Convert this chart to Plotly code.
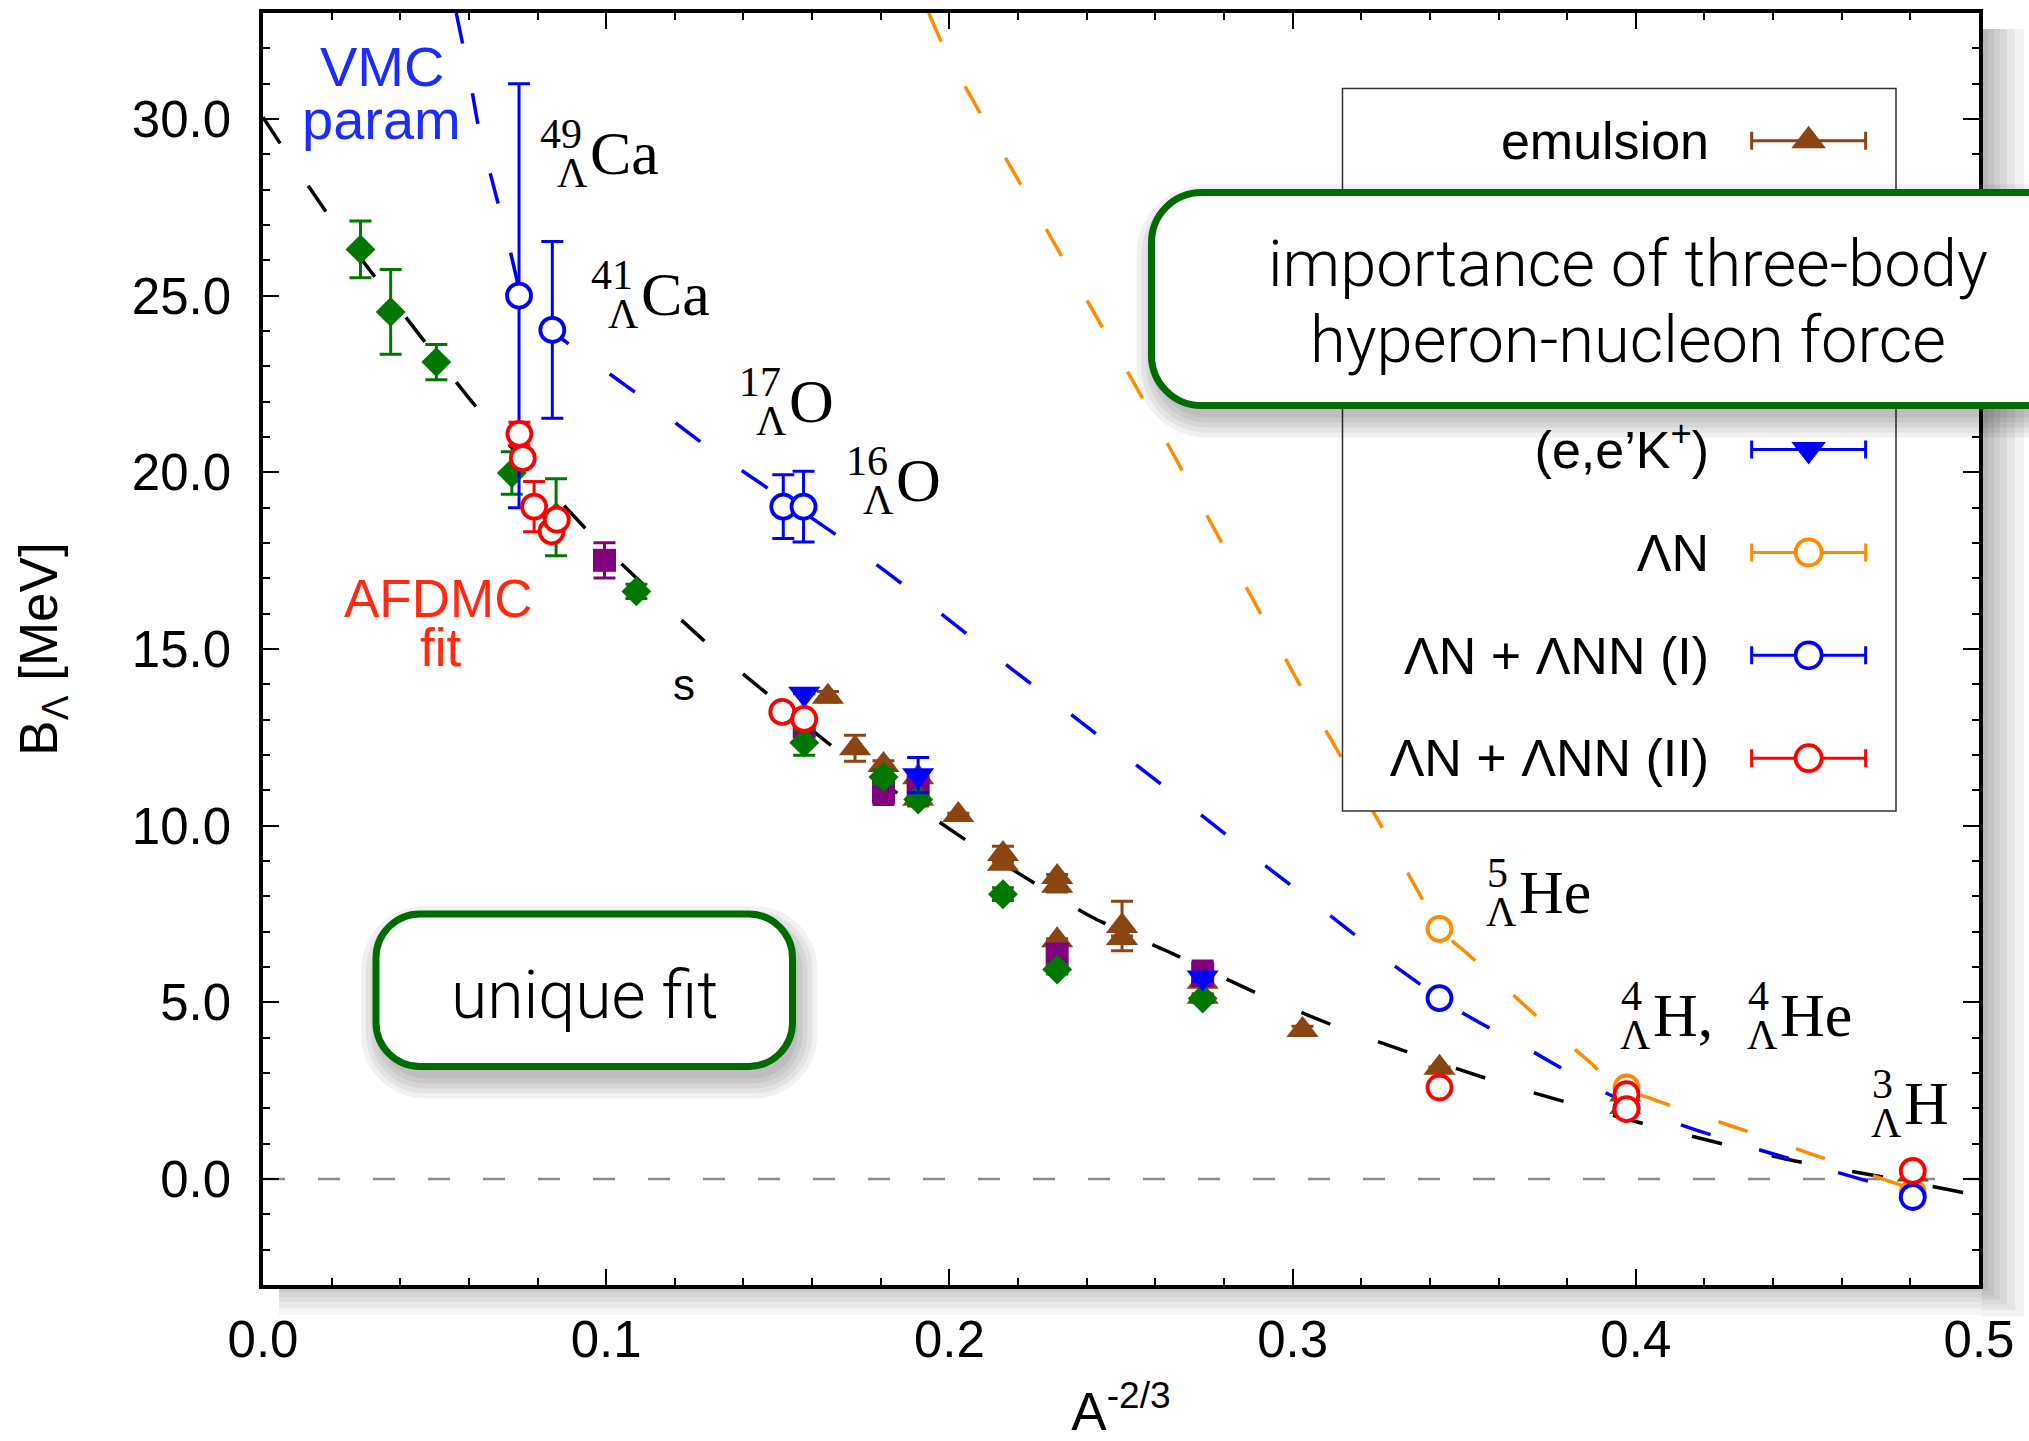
import plotly.graph_objects as go

# ------------------------------------------------------------------
# Data  (x = A^-2/3, y = B_Lambda [MeV])
# ------------------------------------------------------------------
# emulsion (brown up-triangles)
emul_x = [0.4807, 0.3969, 0.3969, 0.3428, 0.3029, 0.2738, 0.2738, 0.2503, 0.2503,
          0.2314, 0.2314, 0.2314, 0.2156, 0.2156, 0.2026, 0.1909, 0.1909, 0.1808,
          0.1725, 0.1646]
emul_y = [0.13, 2.04, 2.39, 3.15, 4.22, 5.58, 5.16, 7.16, 6.82,
          8.55, 8.30, 6.76, 9.20, 8.92, 10.30, 11.37, 10.76, 11.72,
          12.19, 13.65]
emul_err = [0.05, 0.04, 0.03, 0.02, 0.10, 0.03, 0.08, 0.70, 0.06,
            0.07, 0.18, 0.04, 0.22, 0.12, 0.05, 0.06, 0.02, 0.12,
            0.37, 0.15]

# (K-,pi-) (purple squares)
kpi_x = [0.0995, 0.1577, 0.1808, 0.1909, 0.2314, 0.2738]
kpi_y = [17.51, 12.80, 10.95, 11.10, 6.35, 5.82]
kpi_err = [0.50, 0.40, 0.35, 0.40, 0.30, 0.35]

# (pi+,K+) (green diamonds)
pik_x = [0.0284, 0.0372, 0.0505, 0.0725, 0.0854, 0.1088, 0.1577, 0.1808, 0.1909,
         0.2156, 0.2314, 0.2738]
pik_y = [26.31, 24.54, 23.12, 19.98, 18.73, 16.63, 12.35, 11.38, 10.74,
         8.06, 5.93, 5.11]
pik_err = [0.80, 1.20, 0.50, 0.60, 1.09, 0.20, 0.36, 0.20, 0.18,
           0.18, 0.13, 0.10]

# (e,e'K+) (blue down-triangles)
eek_x = [0.1577, 0.1909, 0.2738]
eek_y = [13.73, 11.43, 5.70]
eek_err = [0.0, 0.50, 0.10]

# Lambda N (orange open circles)
ln_x = [0.3428, 0.3973, 0.4807]
ln_y = [7.08, 2.59, -0.38]
ln_err = [0.0, 0.0, 0.0]

# Lambda N + Lambda NN (I) (blue open circles)
l1_x = [0.0746, 0.0843, 0.1516, 0.1575, 0.3428, 0.3973, 0.4807]
l1_y = [25.00, 24.03, 19.03, 19.03, 5.12, 2.00, -0.51]
l1_err = [6.0, 2.5, 0.9, 1.0, 0.0, 0.0, 0.0]

# Lambda N + Lambda NN (II) (red open circles)
l2_x = [0.0747, 0.0757, 0.0790, 0.0841, 0.0856, 0.1513, 0.1577, 0.3428, 0.3973,
        0.3973, 0.4807]
l2_y = [21.09, 20.40, 19.03, 18.33, 18.66, 13.22, 13.02, 2.59, 2.40,
        1.98, 0.23]
l2_err = [0.33, 0.0, 0.71, 0.0, 0.0, 0.0, 0.0, 0.0, 0.0, 0.0, 0.0]

# dashed curves
fit_x = [0.0, 0.0187, 0.0629, 0.0954, 0.1302, 0.1681, 0.2075, 0.2416, 0.2632,
         0.2929, 0.3152, 0.3612, 0.4082, 0.4464, 0.4730, 0.5]
fit_y = [30.05, 27.33, 21.76, 18.27, 15.09, 12.08, 9.42, 7.41, 6.46,
         5.11, 4.22, 2.70, 1.41, 0.51, 0.04, -0.47]

vmc_x = [0.0563, 0.0603, 0.0629, 0.0713, 0.0746, 0.0759, 0.0804, 0.0915, 0.1103,
         0.1292, 0.1682, 0.1948, 0.2142, 0.2335, 0.2528, 0.2718, 0.2907, 0.3100,
         0.3286, 0.3485, 0.3695, 0.3910, 0.4127, 0.4355, 0.4590, 0.4743, 0.4807]
vmc_y = [33.0, 31.12, 29.73, 26.57, 25.20, 24.79, 24.29, 23.46, 22.13,
         20.74, 18.15, 16.21, 14.73, 13.29, 11.84, 10.42, 8.97, 7.53,
         6.11, 4.76, 3.63, 2.45, 1.55, 0.84, 0.18, -0.25, -0.45]

lnc_x = [0.1940, 0.1988, 0.2551, 0.2885, 0.3002, 0.3123, 0.3244, 0.3364, 0.3428,
         0.3510, 0.3580, 0.3688, 0.3758, 0.3873, 0.3935, 0.3975, 0.4041, 0.4129,
         0.4279, 0.4362, 0.4508, 0.4597, 0.4737, 0.4794, 0.4807]
lnc_y = [33.0, 31.95, 22.30, 16.39, 14.32, 12.25, 10.24, 8.17, 7.08,
         6.37, 5.76, 4.81, 4.20, 3.25, 2.64, 2.50, 2.29, 1.98,
         1.50, 1.22, 0.72, 0.42, -0.06, -0.25, -0.38]

# legend entries (top to bottom); rows 1-2 are hidden under the green box
leg_names = ["emulsion", "(K<sup>\u2212</sup>,\u03c0<sup>\u2212</sup>)",
             "(\u03c0<sup>+</sup>,K<sup>+</sup>)", "(e,e\u2019K<sup>+</sup>)",
             "\u039bN", "\u039bN + \u039bNN (I)", "\u039bN + \u039bNN (II)"]
leg_index = list(range(len(leg_names)))
leg_hidden = [1, 2]

# axis ticks
x_ticks = [0.0, 0.1, 0.2, 0.3, 0.4, 0.5]
y_ticks = [0, 5, 10, 15, 20, 25, 30]

# ------------------------------------------------------------------
# Layout geometry / styles
# ------------------------------------------------------------------
W, H = 2029, 1441
ML, MR, MT, MB = 263, 50, 13, 156
PW, PH = W - ML - MR, H - MT - MB

SANS = "Liberation Sans, Arial, Helvetica, sans-serif"
SERIF = "Liberation Serif, Times New Roman, serif"
LIGHT = "Roboto, Liberation Sans, Arial, sans-serif"
GREEN_BOX = "#006b00"


def px(xp):
    return (xp - ML) / PW


def py(yp):
    return (H - MB - yp) / PH


def rrect_path(x0, y0, x1, y1, r):
    k = 0.5523 * r

    def P(x, y):
        return f"{px(x):.5f},{py(y):.5f}"
    return (f"M{P(x0 + r, y0)} L{P(x1 - r, y0)} "
            f"C{P(x1 - r + k, y0)} {P(x1, y0 + r - k)} {P(x1, y0 + r)} "
            f"L{P(x1, y1 - r)} "
            f"C{P(x1, y1 - r + k)} {P(x1 - r + k, y1)} {P(x1 - r, y1)} "
            f"L{P(x0 + r, y1)} "
            f"C{P(x0 + r - k, y1)} {P(x0, y1 - r + k)} {P(x0, y1 - r)} "
            f"L{P(x0, y0 + r)} "
            f"C{P(x0, y0 + r - k)} {P(x0 + r - k, y0)} {P(x0 + r, y0)} Z")


series = [
    dict(name=leg_names[0], x=emul_x, y=emul_y, e=emul_err, color="#8b4513",
         symbol="triangle-up", size=28, fill="#8b4513"),
    dict(name=leg_names[1], x=kpi_x, y=kpi_y, e=kpi_err, color="#800080",
         symbol="square", size=23, fill="#800080"),
    dict(name=leg_names[2], x=pik_x, y=pik_y, e=pik_err, color="#007700",
         symbol="diamond", size=23, fill="#007700"),
    dict(name=leg_names[3], x=eek_x, y=eek_y, e=eek_err, color="#0000ff",
         symbol="triangle-down", size=28, fill="#0000ff"),
    dict(name=leg_names[4], x=ln_x, y=ln_y, e=ln_err, color="#ff8c00",
         symbol="circle", size=24, fill="white"),
    dict(name=leg_names[5], x=l1_x, y=l1_y, e=l1_err, color="#0000ff",
         symbol="circle", size=24, fill="white"),
    dict(name=leg_names[6], x=l2_x, y=l2_y, e=l2_err, color="#ff0000",
         symbol="circle", size=24, fill="white"),
]

fig = go.Figure()

DASH = "31px,51px"
for cx, cy, col in [(fit_x, fit_y, "black"), (vmc_x, vmc_y, "#0000ff"),
                    (lnc_x, lnc_y, "#ff8c00")]:
    fig.add_trace(go.Scatter(x=cx, y=cy, mode="lines", showlegend=False,
                             hoverinfo="skip",
                             line=dict(color=col, width=3.5, dash=DASH,
                                       shape="spline", smoothing=0.6)))

for s in series:
    open_c = s["fill"] == "white"
    fig.add_trace(go.Scatter(
        x=s["x"], y=s["y"], mode="markers", name=s["name"], showlegend=False,
        error_y=dict(type="data", array=s["e"], visible=True, color=s["color"],
                     thickness=3, width=11),
        marker=dict(symbol=s["symbol"], size=s["size"], color=s["fill"],
                    line=dict(color=s["color"], width=3.8 if open_c else 0))))

# legend keys, drawn in a small subplot (row index = legend order)
for i, s in zip(leg_index, series):
    open_c = s["fill"] == "white"
    fig.add_trace(go.Scatter(
        x=[0], y=[i], xaxis="x2", yaxis="y2", mode="markers", showlegend=False,
        hoverinfo="skip",
        error_x=dict(type="data", array=[1], visible=True, color=s["color"],
                     thickness=3, width=9),
        marker=dict(symbol=s["symbol"], size=s["size"] + 2, color=s["fill"],
                    line=dict(color=s["color"], width=3.8 if open_c else 0))))

# ------------------------------------------------------------------
# shapes
# ------------------------------------------------------------------
shapes = []
# zero line
shapes.append(dict(type="line", xref="paper", yref="y", x0=0, x1=1, y0=0, y1=0,
                   line=dict(color="#8c8c8c", width=2.5, dash="22px,33px"),
                   layer="below"))
# frame drop shadow
for d in [6, 12, 18, 25, 33, 42]:
    shapes.append(dict(type="rect", xref="paper", yref="paper",
                       x0=px(1982), x1=px(1982 + d), y0=py(13 + 16), y1=py(1287 + d * 0.7),
                       line=dict(width=0), fillcolor="rgba(0,0,0,0.05)",
                       layer="below"))
for d in [5, 10, 15, 21, 28]:
    shapes.append(dict(type="rect", xref="paper", yref="paper",
                       x0=px(263 + 16), x1=px(1982), y0=py(1287), y1=py(1287 + d),
                       line=dict(width=0), fillcolor="rgba(0,0,0,0.045)",
                       layer="below"))
# legend frame
shapes.append(dict(type="rect", xref="paper", yref="paper",
                   x0=px(1342.5), x1=px(1896), y0=py(811), y1=py(88.6),
                   line=dict(color="#333333", width=1.5),
                   fillcolor="rgba(0,0,0,0)", layer="above"))

boxes = [(1151.5, 192.5, 2100, 405.5, 50), (376, 914, 792.5, 1066.5, 44)]
for (x0, y0, x1, y1, r) in boxes:
    for e in [0, 5, 10, 15, 20]:
        shapes.append(dict(type="path", xref="paper", yref="paper",
                           path=rrect_path(x0 + 5 - e, y0 + 12 - e, x1 + 5 + e,
                                           y1 + 12 + e, r + e),
                           line=dict(width=0), fillcolor="rgba(0,0,0,0.055)",
                           layer="above"))
for (x0, y0, x1, y1, r) in boxes:
    shapes.append(dict(type="path", xref="paper", yref="paper",
                       path=rrect_path(x0, y0, x1, y1, r),
                       line=dict(color=GREEN_BOX, width=7), fillcolor="white",
                       layer="above"))

# ------------------------------------------------------------------
# annotations
# ------------------------------------------------------------------
ann = []
# box texts
ann.append(dict(xref="paper", yref="paper", x=px(1628), y=py(264),
                text="importance of three-body", showarrow=False,
                xanchor="center", yanchor="middle",
                font=dict(family=LIGHT, size=65, color="black", weight=300)))
ann.append(dict(xref="paper", yref="paper", x=px(1628), y=py(340),
                text="hyperon-nucleon force", showarrow=False,
                xanchor="center", yanchor="middle",
                font=dict(family=LIGHT, size=65, color="black", weight=300)))
ann.append(dict(xref="paper", yref="paper", x=px(584), y=py(995),
                text="unique fit", showarrow=False, xanchor="center",
                yanchor="middle",
                font=dict(family=LIGHT, size=66, color="black", weight=300)))

# nuclide labels: (mass, element, x of element left edge, y of element centre)
nuclide_labels = [("49", "Ca", 0.0960, 29.05), ("41", "Ca", 0.1107, 25.05),
                  ("17", "O", 0.1538, 22.01), ("16", "O", 0.1851, 19.79),
                  ("5", "He", 0.3666, 8.12), ("4", "H,", 0.4056, 4.65),
                  ("4", "He", 0.4426, 4.65), ("3", "H", 0.4787, 2.14)]
for mass, el, xe, ye in nuclide_labels:
    ann.append(dict(x=xe, y=ye, text=el, showarrow=False, xanchor="left",
                    yanchor="middle", xshift=-3, borderpad=0,
                    font=dict(family=SERIF, size=62, color="black")))
    ann.append(dict(x=xe, y=ye, text=mass, showarrow=False, xanchor="right",
                    yanchor="middle", xshift=-9 if len(mass) == 2 else -12,
                    yshift=19, borderpad=0,
                    font=dict(family=SERIF, size=42, color="black")))
    ann.append(dict(x=xe, y=ye, text="\u039b", showarrow=False, xanchor="right",
                    yanchor="middle", xshift=-3, yshift=-20, borderpad=0,
                    font=dict(family=SERIF, size=42, color="black")))

# method labels
ann.append(dict(x=0.0346, y=31.50, text="VMC", showarrow=False,
                font=dict(family=SANS, size=56, color="#1a2cff")))
ann.append(dict(x=0.0346, y=29.98, text="param", showarrow=False,
                font=dict(family=SANS, size=56, color="#1a2cff")))
ann.append(dict(x=0.0511, y=16.42, text="AFDMC", showarrow=False,
                font=dict(family=SANS, size=53, color="#ff2a10")))
ann.append(dict(x=0.0519, y=15.03, text="fit", showarrow=False,
                font=dict(family=SANS, size=53, color="#ff2a10")))
ann.append(dict(x=0.1227, y=14.0, text="s", showarrow=False,
                font=dict(family=SANS, size=44, color="black")))

# ------------------------------------------------------------------
# axes
# ------------------------------------------------------------------
axis_common = dict(showline=True, linecolor="black", linewidth=3.5, mirror="allticks",
                   ticks="inside", ticklen=16, tickwidth=1.8, tickcolor="black",
                   showgrid=False, zeroline=False, automargin=False,
                   tickfont=dict(family=SANS, size=51, color="black"))

vis_rows = [i for i in leg_index if i not in leg_hidden]

fig.update_layout(
    width=W, height=H,
    margin=dict(l=ML, r=MR, t=MT, b=MB, pad=0),
    paper_bgcolor="white", plot_bgcolor="white",
    showlegend=False,
    xaxis=dict(axis_common, range=[0, 0.5], tickvals=x_ticks, tickformat=".1f",
               ticklabelstandoff=7,
               minor=dict(dtick=0.02, tick0=0, ticks="inside", ticklen=7,
                          tickwidth=1.5, tickcolor="black"),
               title=dict(text="A<sup>-2/3</sup>", standoff=52,
                          font=dict(family=SANS, size=53, color="black"))),
    yaxis=dict(axis_common, range=[-3, 33], tickvals=y_ticks, tickformat=".1f",
               ticklabelstandoff=18,
               minor=dict(dtick=1, tick0=0, ticks="inside", ticklen=7,
                          tickwidth=1.5, tickcolor="black"),
               title=dict(text="B<sub>\u039b</sub> [MeV]", standoff=58,
                          font=dict(family=SANS, size=53, color="black"))),
    xaxis2=dict(domain=[px(1342.5), px(1896)], anchor="y2", range=[-8.18, 1.533],
                visible=False, fixedrange=True),
    yaxis2=dict(domain=[py(811), py(88.6)], anchor="free", position=px(1712),
                side="right", range=[6.513, -0.507], tickvals=vis_rows,
                ticktext=[leg_names[i] for i in vis_rows],
                ticklabelposition="inside",
                ticklabeloverflow="allow", ticks="", showline=False,
                showgrid=False, zeroline=False, fixedrange=True,
                tickfont=dict(family=SANS, size=52, color="black")),
    shapes=shapes,
    annotations=ann,
)

fig.write_html("out.html")
